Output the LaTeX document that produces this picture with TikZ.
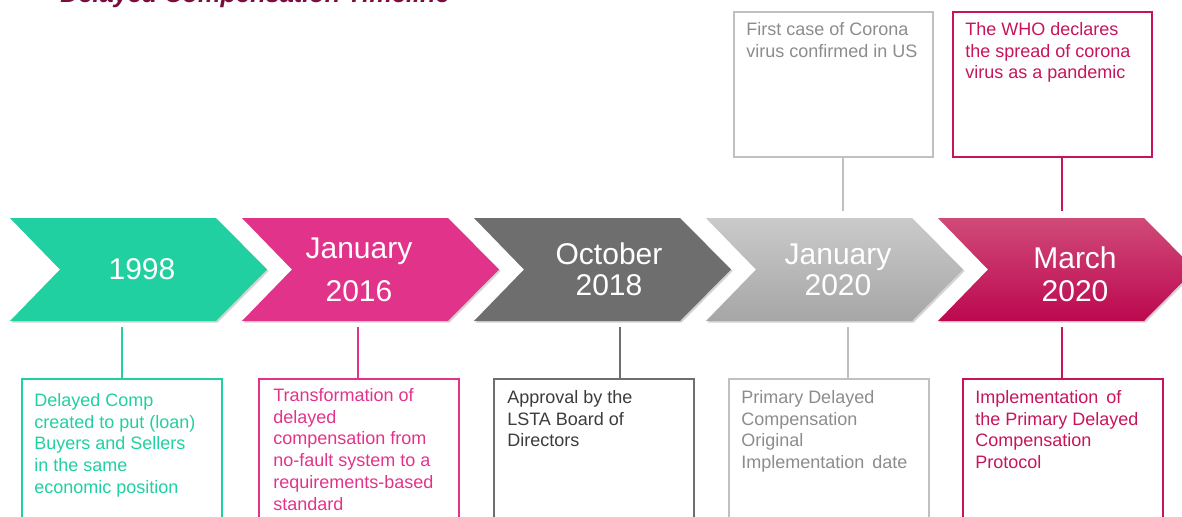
\documentclass[tikz,border=0pt]{standalone}
\usepackage{fontspec}
\setmainfont{Liberation Sans}
\usetikzlibrary{shadows}

\definecolor{maroon}{HTML}{7B0D3E}
\definecolor{mint}{HTML}{20D0A0}
\definecolor{rose}{HTML}{E2338A}
\definecolor{slate}{HTML}{6E6E6E}
\definecolor{slatetext}{HTML}{3C3C3C}
\definecolor{silvertop}{HTML}{CACACA}
\definecolor{silverbot}{HTML}{A6A6A6}
\definecolor{silver}{HTML}{C0C0C0}
\definecolor{silvertext}{HTML}{8C8C8C}
\definecolor{crimsontop}{HTML}{D04A78}
\definecolor{crimsonbot}{HTML}{BC0850}
\definecolor{crimson}{HTML}{C8145A}

\begin{document}
\begin{tikzpicture}[x=0.75pt, y=-0.75pt,
  chev/.style={drop shadow={shadow xshift=1.2pt, shadow yshift=-1.2pt, opacity=.35}},
  year/.style={text=white, align=center, inner sep=0pt, font=\fontsize{22.5}{#1}\selectfont},
  frame/.style={draw=#1, line width=1.5pt, minimum width=150pt, minimum height=120pt, inner sep=0pt},
  upframe/.style={draw=#1, line width=1.5pt, minimum width=149pt, minimum height=109pt, inner sep=0pt},
  note/.style={text=#1, align=left, anchor=north west, inner sep=0pt, font=\fontsize{13.5}{16.35}\selectfont},
  link/.style={draw=#1, line width=1.5pt}]
\useasboundingbox (0,0) rectangle (1182,517);
\clip (0,0) rectangle (1182,517);

% title, mostly above the page
\node[anchor=base west, inner sep=0pt, text=maroon, font=\fontsize{19}{22}\selectfont\bfseries\itshape] (title) at (60,3) {Delayed Compensation Timeline};

% the five chevrons
\path[chev, fill=mint] (10,218) -- (216,218) -- (267,269.5) -- (216,321) -- (10,321) -- (60,269.5) -- cycle;
\path[chev, fill=rose] (242,218) -- (448,218) -- (499,269.5) -- (448,321) -- (242,321) -- (292,269.5) -- cycle;
\path[chev, fill=slate] (474,218) -- (680,218) -- (731,269.5) -- (680,321) -- (474,321) -- (524,269.5) -- cycle;
\path[chev, top color=silvertop, bottom color=silverbot] (706,218) -- (912,218) -- (963,269.5) -- (912,321) -- (706,321) -- (756,269.5) -- cycle;
\path[chev, top color=crimsontop, bottom color=crimsonbot] (938,218) -- (1144,218) -- (1195,269.5) -- (1144,321) -- (938,321) -- (988,269.5) -- cycle;

\node[year=26] (y1) at (142,269) {1998};
\node[year=32] (y2) at (359,269.5) {January\\2016};
\node[year=23.25] (y3) at (609,269.5) {October\\2018};
\node[year=23.25] (y4) at (838,269.5) {January\\2020};
\node[year=24.75] (y5) at (1075,274.5) {March\\2020};

% boxes below the chevrons
\node[frame=mint] (b1) at (122,459) {};
\node[frame=rose] (b2) at (358.5,459) {};
\node[frame=slate] (b3) at (594,459) {};
\node[frame=silver] (b4) at (828.5,459) {};
\node[frame=crimson] (b5) at (1063,459) {};

\node[note=mint] (t1) at (34,393) {Delayed Comp\\created to put (loan)\\Buyers and Sellers\\in the same\\economic position};
\node[note=rose] (t2) at (273,388) {Transformation of\\delayed\\compensation from\\no-fault system to a\\requirements-based\\standard};
\node[note=slatetext] (t3) at (507,390) {Approval by the\\LSTA Board of\\Directors};
\node[note=silvertext] (t4) at (741,390) {Primary Delayed\\Compensation\\Original\\Implementation\, date};
\node[note=crimson] (t5) at (975,390) {Implementation\, of\\the Primary Delayed\\Compensation\\Protocol};

% boxes above the last two chevrons
\node[upframe=silver] (a4) at (833.5,84.5) {};
\node[upframe=crimson] (a5) at (1052.5,84.5) {};
\node[note=silvertext] (s4) at (746,22) {First case of Corona\\virus confirmed in US};
\node[note=crimson] (s5) at (965,22) {The WHO declares\\the spread of corona\\virus as a pandemic};

% connectors
\coordinate (g1) at (122,327);
\coordinate (g2) at (358,327);
\coordinate (g3) at (620,327);
\coordinate (g4) at (848,327);
\coordinate (g5) at (1062,327);
\coordinate (h4) at (843,211);
\coordinate (h5) at (1062,211);
\draw[link=mint] (g1) -- (g1 |- b1.north);
\draw[link=rose] (g2) -- (g2 |- b2.north);
\draw[link=slate] (g3) -- (g3 |- b3.north);
\draw[link=silver] (g4) -- (g4 |- b4.north);
\draw[link=crimson] (g5) -- (g5 |- b5.north);
\draw[link=silver] (h4) -- (h4 |- a4.south);
\draw[link=crimson] (h5) -- (h5 |- a5.south);
\end{tikzpicture}
\end{document}
